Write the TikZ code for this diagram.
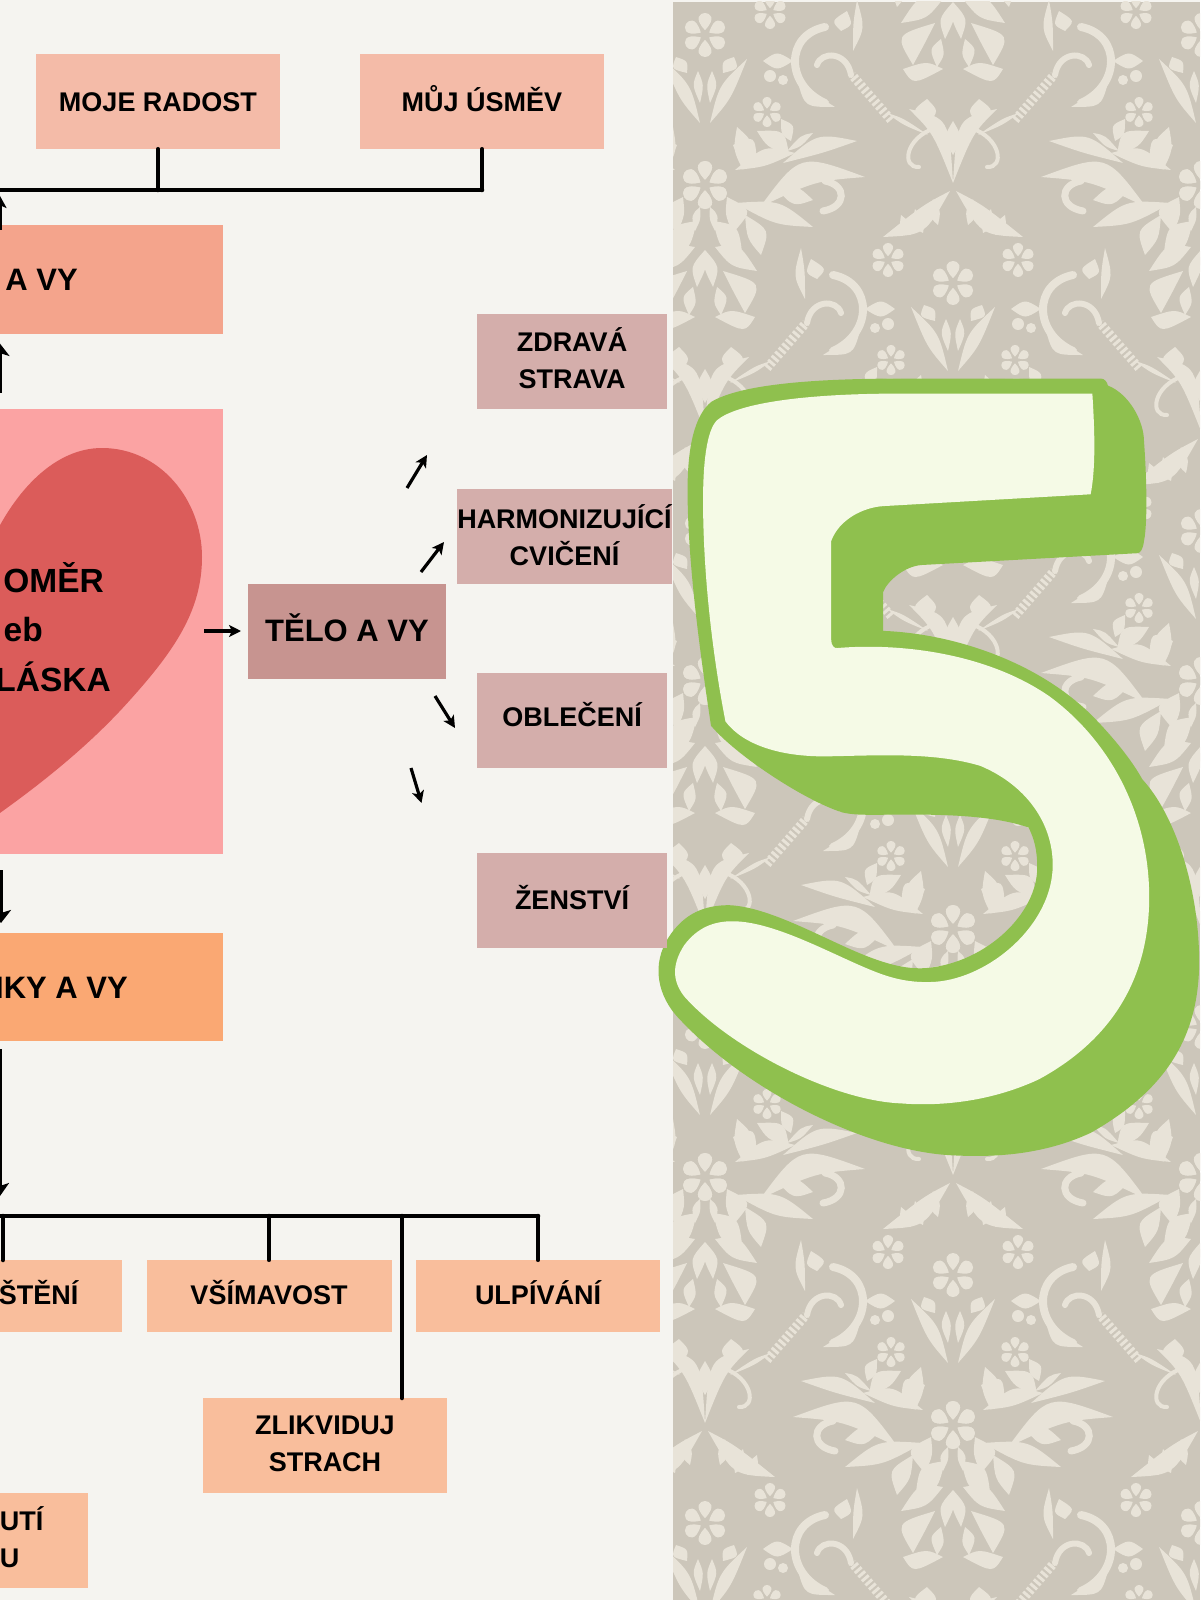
\documentclass[tikz,border=0pt]{standalone}
\usepackage{fontspec}
\setmainfont{Liberation Sans}
\usetikzlibrary{arrows.meta}
\definecolor{paper}{HTML}{F5F4F0}
\definecolor{wall}{HTML}{CCC6BA}
\definecolor{orn}{HTML}{E8E3D8}
\definecolor{gr}{HTML}{8FC04E}
\definecolor{cream}{HTML}{F5FAE6}
\definecolor{cTop}{HTML}{F4BBA8}
\definecolor{cMind}{HTML}{F4A48C}
\definecolor{cPink}{HTML}{FBA3A3}
\definecolor{cHeart}{HTML}{DB5C5A}
\definecolor{cBody}{HTML}{C79490}
\definecolor{cSub}{HTML}{D4AEAB}
\definecolor{cThought}{HTML}{FAA873}
\definecolor{cLow}{HTML}{F9BE9C}
\newcommand{\lfa}[4]{\fill #1 .. controls #2 .. #3 .. controls #4 .. #1;}
\newcommand{\flw}[2]{\begin{scope}[shift={#1}]\foreach \a in {0,60,...,300}{\begin{scope}[rotate=\a]\fill (0,-#2*0.22) .. controls (#2*0.55,-#2*0.8) and (#2*0.2,-#2) .. (0,-#2) .. controls (-#2*0.2,-#2) and (-#2*0.55,-#2*0.8) .. (0,-#2*0.22);\end{scope}}\fill[wall] (0,0) circle (#2*0.2);\end{scope}}
\newcommand{\ml}[3]{\raisebox{#1}[\height][\depth]{\begin{tabular}{@{}c@{}}#2\\#3\end{tabular}}}
\newcommand{\hmotif}{%
 % below the flower
 \lfa{(42,24)}{(26,64)}{(5,88)}{(14,50)}
 \lfa{(7,36)}{(13,50)}{(5,68)}{(1,50)}
 \lfa{(29,22)}{(34,34)}{(18,38)}{(17,26)}
 % small flower and sprays above it
 \flw{(65,-23)}{17}
 \lfa{(3,-92)}{(28,-48)}{(70,-46)}{(30,-78)}
 \lfa{(38,-74)}{(42,-56)}{(30,-50)}{(28,-62)}
 \lfa{(52,-68)}{(54,-54)}{(42,-48)}{(42,-60)}
 \lfa{(20,-84)}{(24,-66)}{(15,-58)}{(12,-72)}
 % X and vase
 \lfa{(0,-100)}{(20,-150)}{(44,-174)}{(4,-165)}
 \lfa{(0,-128)}{(10,-145)}{(0,-162)}{(0,-145)}
 \lfa{(10,-134)}{(17,-147)}{(11,-160)}{(6,-147)}
 \lfa{(26,-158)}{(42,-172)}{(26,-184)}{(14,-172)}
 \draw[orn,line width=4,line cap=round] (18,-155) .. controls (48,-145) and (52,-115) .. (34,-116);
 % rope
 \lfa{(25,-148)}{(50,-165)}{(66,-170)}{(50,-158)}
 \draw[orn,line width=9,dash pattern=on 3pt off 2.4pt] (62,-163) -- (101,-208);
 % scroll
 \draw[orn,line width=8,line cap=round] (128,-180) .. controls (168,-198) and (168,-248) .. (128,-256);
 \draw[orn,line width=6,line cap=round] (102,-208) .. controls (106,-232) and (132,-232) .. (136,-218);
 \lfa{(118,-176)}{(148,-176)}{(155,-200)}{(140,-190)}
 \lfa{(112,-252)}{(122,-262)}{(106,-272)}{(100,-258)}
 \lfa{(100,-232)}{(100,-260)}{(96,-283)}{(88,-255)}
 \lfa{(160,-222)}{(176,-232)}{(190,-222)}{(176,-212)}
 \fill (183,-207) circle (6); \fill (170,-203) circle (5);
 % cluster
 \flw{(0,150)}{24}
 \lfa{(5,172)}{(14,180)}{(10,196)}{(4,184)}
 \lfa{(30,135)}{(60,110)}{(90,118)}{(60,132)}
 \lfa{(28,110)}{(50,100)}{(52,128)}{(35,128)}
 \lfa{(55,172)}{(95,118)}{(160,142)}{(110,146)}
 \lfa{(78,128)}{(112,98)}{(152,106)}{(118,118)}
 \lfa{(82,116)}{(96,100)}{(108,98)}{(96,112)}
 \draw[orn,line width=7,line cap=round] (120,146) .. controls (142,150) and (142,172) .. (118,176);
 \lfa{(30,168)}{(75,165)}{(108,192)}{(70,190)}
 \lfa{(40,180)}{(65,195)}{(56,220)}{(42,204)}
 \lfa{(22,162)}{(48,175)}{(28,198)}{(20,180)}
 \lfa{(8,186)}{(34,190)}{(38,226)}{(15,214)}
 \lfa{(70,152)}{(92,150)}{(108,165)}{(88,172)}
 \flw{(62,77)}{15}
 \lfa{(52,96)}{(80,95)}{(84,120)}{(62,112)}
 \lfa{(76,84)}{(90,90)}{(86,106)}{(76,100)}
 \lfa{(32,92)}{(50,108)}{(38,135)}{(28,115)}
 % flank below the cluster
 \lfa{(0,215)}{(15,232)}{(8,252)}{(-2,232)}
 \lfa{(10,212)}{(34,208)}{(52,236)}{(26,232)}
 \lfa{(18,236)}{(58,248)}{(40,278)}{(28,256)}
 \lfa{(10,282)}{(40,298)}{(50,282)}{(26,274)}
 \lfa{(12,252)}{(24,262)}{(16,280)}{(8,268)}
}
\newcommand{\motif}{\flw{(0,0)}{22}
 \hmotif \begin{scope}[xscale=-1]\hmotif\end{scope}}
\tikzset{
 x=1pt,y=-1pt,
 box/.style={minimum width=#1},
 txt/.style={text=black,inner sep=0pt,font=\fontsize{27}{37}\selectfont\bfseries,align=center},
 big/.style={text=black,inner sep=0pt,font=\fontsize{31}{48}\selectfont\bfseries,align=center},
 hrt/.style={big,font=\fontsize{33.5}{48}\selectfont\bfseries},
 one/.style={text height=19.5pt,text depth=#1},
 wire/.style={line width=4.5pt,black,line cap=round},
 arr/.style={line width=3.2pt,black,-{Stealth[length=12pt,width=12pt,inset=3pt]}},
 arrb/.style={line width=4.5pt,black,-{Stealth[length=13pt,width=#1,inset=3pt]}},
}
\begin{document}
\begin{tikzpicture}
\useasboundingbox (0,0) rectangle (1200,1600);
\fill[paper] (0,0) rectangle (1200,1600);
% wallpaper
\begin{scope}
\clip (673,2) rectangle (1200,1600);
\fill[wall] (673,2) rectangle (1200,1600);
\begin{scope}[orn]
\foreach \i/\j in {-2/-2,-2/0,-2/2,-2/4,-2/6,-1/-1,-1/1,-1/3,-1/5,0/-2,0/0,0/2,0/4,0/6,1/-1,1/1,1/3,1/5,2/-2,2/0,2/2,2/4,2/6}{
 \begin{scope}[shift={(953+248*\i,283+248*\j)}]\motif\end{scope}
}
\end{scope}
\end{scope}
% the figure 5
\begin{scope}[x=.3445pt,y=-.5357pt,xshift=660pt,yshift=-340pt]
\fill[gr] (80,280) .. controls (80,200) and (100,140) .. (150,115)
 .. controls (230,85) and (420,72) .. (700,72) -- (1280,72)
 .. controls (1290,72) and (1298,78) .. (1300,85)
 .. controls (1360,100) and (1405,150) .. (1405,190)
 .. controls (1412,250) and (1416,340) .. (1405,375)
 .. controls (1402,390) and (1395,398) .. (1385,398)
 -- (760,420) .. controls (710,422) and (660,450) .. (648,470)
 -- (648,543) .. controls (850,548) and (1100,600) .. (1260,705)
 .. controls (1320,745) and (1370,785) .. (1400,820)
 .. controls (1500,890) and (1565,1030) .. (1565,1160)
 .. controls (1565,1300) and (1470,1400) .. (1250,1480)
 .. controls (1100,1525) and (950,1525) .. (850,1522)
 .. controls (600,1515) and (250,1400) .. (60,1270)
 .. controls (-10,1225) and (-25,1165) .. (25,1115)
 .. controls (70,1070) and (130,1055) .. (200,1055)
 .. controls (320,1058) and (480,1120) .. (600,1150)
 .. controls (680,1170) and (730,1175) .. (780,1172)
 .. controls (950,1160) and (1095,1070) .. (1095,985)
 .. controls (1095,950) and (1085,930) .. (1070,910)
 .. controls (980,890) and (850,885) .. (700,886)
 .. controls (620,886) and (570,888) .. (530,882)
 .. controls (420,860) and (220,775) .. (148,720)
 .. controls (120,600) and (80,420) .. (80,280) -- cycle;
\fill[cream] (125,300) .. controls (125,230) and (135,170) .. (165,150)
 .. controls (220,120) and (400,100) .. (700,100) -- (1255,100)
 .. controls (1262,170) and (1265,240) .. (1250,288)
 -- (650,310) .. controls (590,312) and (520,335) .. (497,375)
 -- (497,560) .. controls (497,570) and (505,576) .. (515,575)
 .. controls (700,565) and (950,585) .. (1130,665)
 .. controls (1300,745) and (1420,880) .. (1420,1040)
 .. controls (1420,1200) and (1300,1310) .. (1100,1380)
 .. controls (950,1425) and (800,1430) .. (700,1425)
 .. controls (500,1420) and (200,1320) .. (70,1225)
 .. controls (40,1200) and (30,1170) .. (70,1130)
 .. controls (110,1095) and (160,1085) .. (210,1085)
 .. controls (340,1085) and (520,1155) .. (640,1183)
 .. controls (700,1197) and (750,1200) .. (800,1198)
 .. controls (960,1190) and (1140,1090) .. (1140,980)
 .. controls (1140,900) and (1060,830) .. (930,795)
 .. controls (800,770) and (650,775) .. (500,777)
 .. controls (350,780) and (240,755) .. (190,712)
 .. controls (150,580) and (125,430) .. (125,300) -- cycle;
\end{scope}
% boxes
\node[box=244pt,minimum height=95pt,fill=cTop,txt,one=0pt] (moje) at (158,101.5) {MOJE RADOST};
\node[box=244pt,minimum height=95pt,fill=cTop,txt,one=0pt] (muj) at (482,101.5) {MŮJ ÚSMĚV};
\node[box=263pt,minimum height=109pt,fill=cMind] (mysl) at (91,279.5) {};
\node[big,one=0pt,anchor=east] (myslt) at (78,281) {A VY};
\node[box=263pt,minimum height=445pt,fill=cPink] (pink) at (91,631.5) {};
\fill[cHeart] (-10,545) .. controls (15,490) and (55,448) .. (102,448)
 .. controls (160,448) and (202,500) .. (202,557)
 .. controls (202,610) and (175,650) .. (130,700)
 .. controls (90,745) and (40,785) .. (-10,820) -- cycle;
\node[hrt,anchor=east,one=0pt] (omer) at (104,583) {OMĚR};
\node[hrt,anchor=east,text height=23pt,text depth=0pt] (neb) at (43,630) {eb};
\node[hrt,anchor=east,one=0pt] (laska) at (111,682) {LÁSKA};
\node[box=198pt,minimum height=95pt,fill=cBody,big,text height=22pt,text depth=3pt] (telo) at (347,631.5) {TĚLO A VY};
\node[box=190pt,minimum height=95pt,fill=cSub,txt] (zdrava) at (572,361.5) {\ml{-1pt}{ZDRAVÁ}{STRAVA}};
\node[box=213pt,minimum height=95pt,fill=cSub,txt] (harm) at (564.5,536.5) {\ml{-3pt}{HARMONIZUJÍCÍ}{CVIČENÍ}};
\node[box=190pt,minimum height=95pt,fill=cSub,txt,one=8pt] (obl) at (572,720.5) {OBLEČENÍ};
\node[box=190pt,minimum height=95pt,fill=cSub,txt,one=2pt] (zen) at (572,900.5) {ŽENSTVÍ};
\node[box=263pt,minimum height=108pt,fill=cThought] (thought) at (91,987) {};
\node[big,one=0pt,anchor=east] (thoughtt) at (128,989) {NKY A VY};
\node[box=162pt,minimum height=72pt,fill=cLow] (odp) at (41,1296) {};
\node[txt,one=0pt,anchor=east] (odpt) at (78.5,1295) {ŠTĚNÍ};
\node[box=245pt,minimum height=72pt,fill=cLow,txt,one=2pt] (vsim) at (269,1296) {VŠÍMAVOST};
\node[box=244pt,minimum height=72pt,fill=cLow,txt,one=2pt] (ulp) at (538,1296) {ULPÍVÁNÍ};
\node[box=244pt,minimum height=95pt,fill=cLow,txt] (zlik) at (325,1445.5) {\ml{0pt}{ZLIKVIDUJ}{STRACH}};
\node[box=128pt,minimum height=95pt,fill=cLow] (last) at (24,1540.5) {};
\node[txt,one=0pt,anchor=east] (lastA) at (43.5,1521) {UTÍ};
\node[txt,one=0pt,anchor=east] (lastB) at (19.5,1558) {U};
% connectors
\coordinate (topleft) at (0,190);
\coordinate (topright) at (482,190);
\coordinate (lowleft) at (0,1216);
\coordinate (lowright) at (538,1216);
\draw[wire] (topleft) -- (topright);
\draw[wire] (moje.south) -- (moje.south |- topleft);
\draw[wire] (muj.south) -- (topright);
\draw[wire] (lowleft) -- (lowright);
\draw[wire] (3,1216) -- (3,1260);
\draw[wire] (vsim.north) -- (vsim.north |- lowleft);
\draw[wire] (402,1216) -- (402,1398);
\draw[wire] (ulp.north) -- (lowright);
% arrows
\coordinate (a1) at (407,488); \coordinate (b1) at (427,455);
\coordinate (a2) at (421,572); \coordinate (b2) at (444,542);
\coordinate (a3) at (435,696); \coordinate (b3) at (455,728);
\coordinate (a4) at (411,768); \coordinate (b4) at (421.5,803);
\coordinate (h1) at (204,631); \coordinate (h2) at (241,631);
\draw[arr] (a1) -- (b1);
\draw[arr] (a2) -- (b2);
\draw[arr] (a3) -- (b3);
\draw[arr] (a4) -- (b4);
\draw[arr] (h1) -- (h2);
\coordinate (v1a) at (-0.5,230); \coordinate (v1b) at (-0.5,195);
\coordinate (v2a) at (-0.5,393); \coordinate (v2b) at (-0.5,343);
\coordinate (v3a) at (1,870); \coordinate (v3b) at (1,923);
\coordinate (v4a) at (0,1049); \coordinate (v4b) at (0,1196);
\draw[arrb=14pt] (v1a) -- (v1b);
\draw[arrb=20pt] (v2a) -- (v2b);
\draw[arrb=20pt] (v3a) -- (v3b);
\draw[arrb=18pt] (v4a) -- (v4b);
\end{tikzpicture}
\end{document}
